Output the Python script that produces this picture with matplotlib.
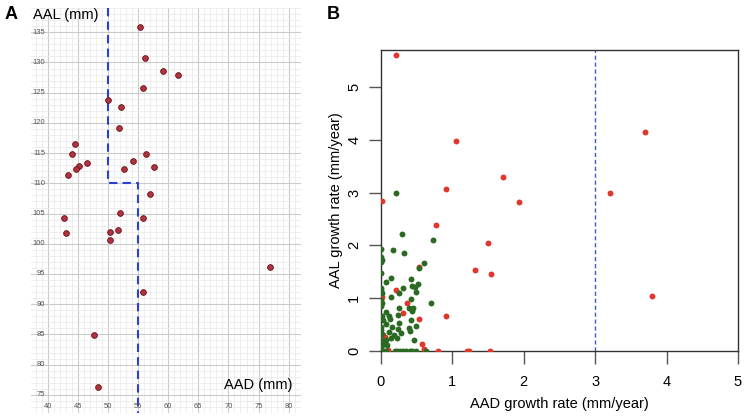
import numpy as np
import matplotlib
matplotlib.use('Agg')
import matplotlib.pyplot as plt
from matplotlib.ticker import MultipleLocator

plt.rcParams['font.family'] = ['Liberation Sans', 'DejaVu Sans']

# Panel A: AAD vs AAL (mm)
a_aad = [55.3, 56.1, 59.2, 61.6, 55.8, 50.1, 52.2, 51.8, 44.6, 44.1,
         56.4, 46.6, 54.1, 45.2, 44.7, 52.7, 57.7, 43.3, 57.0, 42.8,
         52.0, 55.9, 43.0, 50.3, 51.6, 50.3, 55.9, 47.7, 48.4, 76.9]
a_aal = [135.8, 130.8, 128.6, 127.9, 125.7, 123.8, 122.7, 119.2, 116.5, 114.9,
         114.8, 113.3, 113.7, 112.8, 112.3, 112.3, 112.7, 111.3, 108.2, 104.2,
         105.1, 104.2, 101.75, 102.0, 102.3, 100.7, 92.0, 84.9, 76.3, 96.1]
a_xticks = [40, 45, 50, 55, 60, 65, 70, 75, 80]
a_yticks = [75, 80, 85, 90, 95, 100, 105, 110, 115, 120, 125, 130, 135]
# threshold path: AAD 50 above AAL 110, AAD 55 below
thr_x = [50, 50, 55, 55]
thr_y = [139, 110, 110, 72]

# Panel B: growth rates (mm/year)
red_x = [0.02, 1.93, 0.77, 1.50, 1.32, 1.55, 0.54, 0.21, 0.02, 0.37,
         0.31, 0.91, 0.54, 0.03, 0.06, 0.58, 0.60, 0.10, 0.80, 1.21,
         1.24, 1.53, 0.21, 1.06, 0.91, 1.71, 3.70, 3.21, 3.80]
red_y = [2.84, 2.83, 2.38, 2.04, 1.54, 1.46, 1.60, 1.16, 1.03, 0.90,
         0.72, 0.67, 0.61, 0.31, 0.26, 0.13, 0.04, 0.02, 0.0, 0.0,
         0.0, 0.0, 5.60, 3.98, 3.06, 3.30, 4.15, 3.00, 1.04]
green_x = [0.21, 0.30, 0.73, 0.17, 0.32, 0.00, 0.01, 0.02, 0.00, 0.61,
           0.53, 0.00, 0.15, 0.07, 0.43, 0.52, 0.44, 0.48, 0.31, 0.00,
           0.01, 0.02, 0.50, 0.25, 0.15, 0.42, 0.02, 0.70, 0.39, 0.45,
           0.25, 0.44, 0.07, 0.02, 0.03, 0.12, 0.24, 0.13, 0.26, 0.42,
           0.08, 0.01, 0.16, 0.50, 0.39, 0.24, 0.41, 0.12, 0.29, 0.19,
           0.15, 0.07, 0.46, 0.23, 0.04, 0.09, 0.01, 0.00, 0.01, 0.01,
           0.02, 0.01, 0.04, 0.07, 0.20, 0.23, 0.27, 0.31, 0.35, 0.41,
           0.44, 0.49, 0.64]
green_y = [3.00, 2.22, 2.11, 1.92, 1.85, 1.94, 1.78, 1.72, 1.69, 1.67,
           1.58, 1.47, 1.38, 1.31, 1.36, 1.27, 1.23, 1.22, 1.19, 1.20,
           1.15, 1.09, 1.11, 1.09, 1.02, 0.98, 0.90, 0.91, 0.82, 0.81,
           0.81, 0.75, 0.74, 0.66, 0.59, 0.66, 0.68, 0.60, 0.53, 0.59,
           0.52, 0.46, 0.45, 0.47, 0.44, 0.41, 0.38, 0.36, 0.35, 0.30,
           0.24, 0.21, 0.20, 0.25, 0.13, 0.11, 0.08, 0.97, 0.85, 0.40,
           0.33, 0.21, 0.0, 0.0, 0.0, 0.0, 0.0, 0.0, 0.0, 0.0,
           0.0, 0.0, 0.0]
b_ticks = [0, 1, 2, 3, 4, 5]
b_cut = 3

fig = plt.figure(figsize=(7.5, 4.17), dpi=100)

# ---- Panel A ----
ax1 = fig.add_axes([0.041, 0.0096, 0.36, 0.971])
ax1.set_xlim(37.2, 82)
ax1.set_ylim(72, 139)
ax1.xaxis.set_major_locator(MultipleLocator(5))
ax1.yaxis.set_major_locator(MultipleLocator(5))
ax1.xaxis.set_minor_locator(MultipleLocator(1))
ax1.yaxis.set_minor_locator(MultipleLocator(1))
ax1.grid(True, which='minor', color='#e8e8e8', lw=0.5)
ax1.grid(True, which='major', color='#cbcbcb', lw=0.8)
ax1.set_axisbelow(True)
ax1.tick_params(which='both', length=0, labelbottom=False, labelleft=False)
for s in ax1.spines.values():
    s.set_visible(False)
for t in a_xticks:
    ax1.text(t, 73.0, str(t), fontsize=5.5, color='#555555', ha='center', va='center')
for t in a_yticks:
    ax1.text(39.6, t, str(t), fontsize=5.5, color='#555555', ha='right', va='center')
ax1.plot(thr_x, thr_y, color='#2a3fd4', lw=1.5, ls=(0, (4, 2.5)))
ax1.scatter(a_aad, a_aal, s=17, color='#b5313e', edgecolor='#5e1419', linewidth=0.6, zorder=3)
ax1.text(37.6, 137.9, 'AAL (mm)', fontsize=10.5, ha='left', va='center')
ax1.text(80.6, 76.7, 'AAD (mm)', fontsize=10.5, ha='right', va='center')
fig.text(0.006, 0.965, 'A', fontsize=13, fontweight='bold', ha='left', va='center')

# ---- Panel B ----
ax2 = fig.add_axes([0.5076, 0.1583, 0.4764, 0.7218])
ax2.set_xlim(0, 5)
ax2.set_ylim(0, 5.70)
ax2.axvline(b_cut, color='#3a5bc8', lw=1.0, ls=(0, (3, 2)))
ax2.scatter(red_x, red_y, s=18, color='#e0372b', linewidth=0, zorder=3)
ax2.scatter(green_x, green_y, s=18, color='#2a6a22', linewidth=0, zorder=4)
ax2.set_xticks(b_ticks)
ax2.set_yticks(b_ticks)
ax2.tick_params(direction='out', length=9, width=1, color='#555555', labelsize=10.5, pad=8)
ax2.tick_params(axis='y', pad=5)
for lab in ax2.get_yticklabels():
    lab.set_rotation(90)
    lab.set_va('center')
for s in ax2.spines.values():
    s.set_color('#333333')
    s.set_linewidth(1.0)
ax2.set_xlabel('AAD growth rate (mm/year)', fontsize=10.5, labelpad=6)
ax2.set_ylabel('AAL growth rate (mm/year)', fontsize=10.5)
ax2.yaxis.set_label_coords(-0.105, 0.5)
fig.text(0.436, 0.965, 'B', fontsize=13, fontweight='bold', ha='left', va='center')

fig.savefig('out.png', dpi=100)
